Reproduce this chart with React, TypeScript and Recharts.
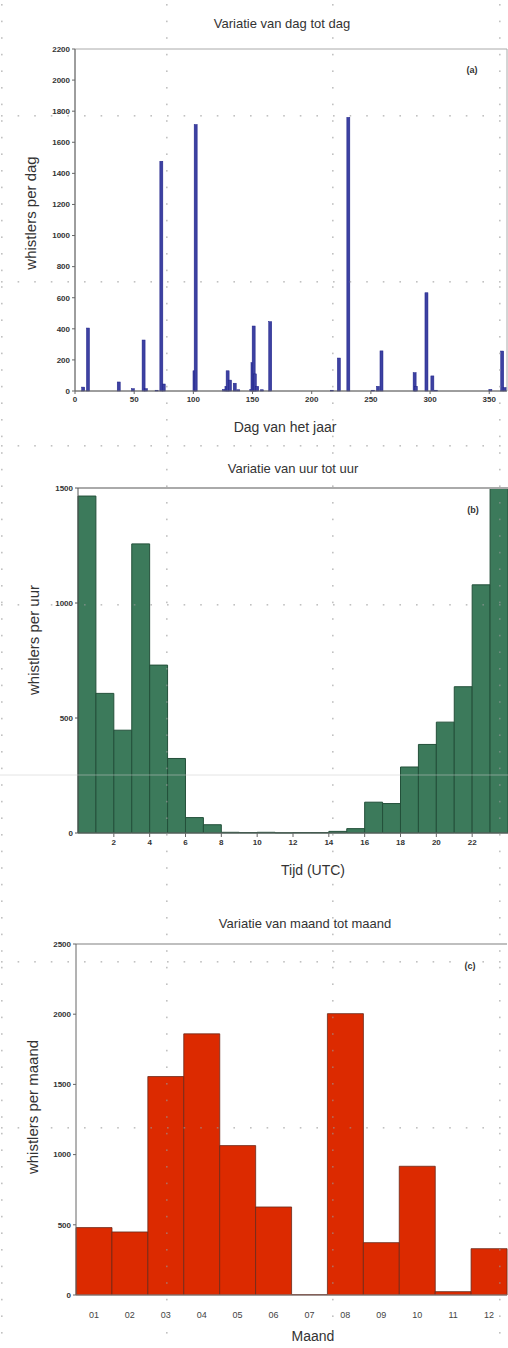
import { BarChart, Bar, XAxis, YAxis, ReferenceArea, ReferenceLine } from "recharts";

// (a) dag van het jaar
const dayNumbers = [7, 11, 37, 49, 58, 60, 69, 73, 75, 101, 102, 126, 128, 129, 131, 135, 138, 149, 150, 151, 152, 154, 158, 165, 217, 223, 231, 252, 256, 259, 287, 288, 297, 302, 305, 351, 361, 363];
const dayCounts = [25, 405, 58, 15, 328, 15, 5, 1478, 45, 130, 1714, 10, 30, 130, 70, 50, 8, 10, 182, 418, 110, 30, 8, 446, 5, 212, 1760, 5, 30, 258, 118, 30, 632, 97, 5, 10, 257, 22];
const dayTicksX = [0, 50, 100, 150, 200, 250, 300, 350];
const dayTicksY = [0, 200, 400, 600, 800, 1000, 1200, 1400, 1600, 1800, 2000, 2200];

// (b) uur (UTC)
const hourStarts = [0, 1, 2, 3, 4, 5, 6, 7, 8, 9, 10, 11, 12, 13, 14, 15, 16, 17, 18, 19, 20, 21, 22, 23];
const hourCounts = [1465, 607, 447, 1257, 730, 324, 67, 36, 3, 2, 3, 1, 2, 2, 7, 19, 134, 128, 287, 385, 482, 636, 1079, 1500];
const hourTicksX = [2, 4, 6, 8, 10, 12, 14, 16, 18, 20, 22];
const hourTicksY = [0, 500, 1000, 1500];

// (c) maand
const months = ["01", "02", "03", "04", "05", "06", "07", "08", "09", "10", "11", "12"];
const monthCounts = [480, 449, 1556, 1860, 1064, 627, 3, 2004, 373, 917, 24, 330];
const monthTicksY = [0, 500, 1000, 1500, 2000, 2500];

const dayData = dayNumbers.map((d, i) => ({ day: d, count: dayCounts[i] }));
const hourData = hourStarts.map((h, i) => ({ hour: h + 0.5, count: hourCounts[i] }));
const monthData = months.map((m, i) => ({ month: m, count: monthCounts[i] }));

const FONT = "'Liberation Sans', Arial, sans-serif";
const tickY = { fontSize: 8, fontWeight: 700, fill: "#333", fontFamily: FONT };
const tickX = { fontSize: 8, fontWeight: 700, fill: "#333", fontFamily: FONT };

const txt = (s: string, x: number, y: number, size: number, extra: any = {}) => (
  <div
    style={{
      position: "absolute",
      left: x,
      top: y,
      transform: "translate(-50%, -50%)",
      fontFamily: FONT,
      fontSize: size,
      color: "#333",
      whiteSpace: "nowrap",
      ...extra,
    }}
  >
    {s}
  </div>
);

const vtxt = (s: string, x: number, y: number) =>
  txt(s, x, y, 15, { transform: "translate(-50%, -50%) rotate(-90deg)" });

// thin day bars: keep the library's x centre, draw a fixed 3px wide stick
const DayBar = (props: any) => {
  const { x, y, width, height } = props;
  if (!height || height <= 0) return null;
  const cx = x + width / 2;
  return <rect x={cx - 1.5} y={y} width={3} height={height} fill="#3d41a2" stroke="#1d2088" strokeWidth={0.5} />;
};

// dotted page grid that lies over the whole scan
const PageGrid = () => {
  const cols = [1, 166, 332, 499];
  const rows = [115, 281, 445, 604, 961, 1127];
  const dots: any[] = [];
  cols.forEach((x) => {
    for (let y = 4; y < 1348; y += 16.6) dots.push(<rect key={`c${x}-${y}`} x={x} y={y} width={1.6} height={1.6} />);
  });
  rows.forEach((y) => {
    for (let x = 1; x < 508; x += 16.6) dots.push(<rect key={`r${y}-${x}`} x={x} y={y} width={1.6} height={1.6} />);
  });
  return (
    <svg width={508} height={1348} style={{ position: "absolute", left: 0, top: 0, pointerEvents: "none" }}>
      <g fill="#999" opacity={0.6}>{dots}</g>
      <line x1={0} x2={508} y1={775} y2={775} stroke="#ccc" strokeWidth={1} opacity={0.5} />
    </svg>
  );
};

export default function App() {
  return (
    <div style={{ position: "absolute", left: 0, top: 0, width: 508, height: 1348, background: "#fff", overflow: "hidden" }}>
      {/* (a) */}
      <div style={{ position: "absolute", left: 0, top: 0 }}>
        <BarChart width={508} height={440} data={dayData} margin={{ top: 49, right: 1, bottom: 29, left: 0 }}>
          <ReferenceArea x1={0} x2={365} y1={0} y2={2200} fill="none" stroke="#aaa" strokeWidth={1} />
          <XAxis
            dataKey="day"
            type="number"
            domain={[0, 365]}
            ticks={dayTicksX}
            allowDecimals={false}
            height={20}
            tick={tickX}
            tickSize={3}
            axisLine={{ stroke: "#666" }}
            tickLine={{ stroke: "#666" }}
          />
          <YAxis
            domain={[0, 2200]}
            ticks={dayTicksY}
            width={75}
            tick={tickY}
            tickSize={3}
            axisLine={{ stroke: "#666" }}
            tickLine={{ stroke: "#666" }}
            interval={0}
          />
          <Bar dataKey="count" fill="#3d41a2" barSize={2} shape={DayBar} isAnimationActive={false} />
        </BarChart>
      </div>
      {txt("Variatie van dag tot dag", 282, 23, 13)}
      {vtxt("whistlers per dag", 30, 213)}
      {txt("Dag van het jaar", 285, 427, 14)}
      {txt("(a)", 472, 70, 9, { fontWeight: 700 })}

      {/* (b) */}
      <div style={{ position: "absolute", left: 0, top: 440 }}>
        <BarChart width={508} height={440} data={hourData} margin={{ top: 48, right: 0, bottom: 27, left: 0 }}>
          <ReferenceLine y={1500} stroke="#aaa" strokeWidth={2} />
          <XAxis
            dataKey="hour"
            type="number"
            domain={[0, 24]}
            ticks={hourTicksX}
            height={20}
            tick={tickX}
            tickSize={4}
            axisLine={{ stroke: "#666" }}
            tickLine={{ stroke: "#666" }}
          />
          <YAxis
            domain={[0, 1500]}
            ticks={hourTicksY}
            width={78}
            tick={tickY}
            tickSize={3}
            axisLine={{ stroke: "#555" }}
            tickLine={{ stroke: "#555" }}
            interval={0}
          />
          <Bar dataKey="count" fill="#3c7a5b" stroke="#23503a" strokeWidth={1} barSize={17.9} isAnimationActive={false} />
        </BarChart>
      </div>
      {txt("Variatie van uur tot uur", 293, 468, 13)}
      {vtxt("whistlers per uur", 33, 640)}
      {txt("Tijd (UTC)", 313, 870, 14)}
      {txt("(b)", 473, 510, 9, { fontWeight: 700 })}

      {/* (c) */}
      <div style={{ position: "absolute", left: 0, top: 900 }}>
        <BarChart width={508} height={448} data={monthData} barCategoryGap={0} margin={{ top: 44, right: 1, bottom: 23, left: 0 }}>
          <ReferenceLine y={2500} stroke="#aaa" strokeWidth={1.5} />
          <XAxis
            dataKey="month"
            height={30}
            tick={{ fontSize: 9, fill: "#444", fontFamily: FONT }}
            tickSize={0}
            tickMargin={17}
            axisLine={{ stroke: "#888" }}
            interval={0}
          />
          <YAxis
            domain={[0, 2500]}
            ticks={monthTicksY}
            width={76}
            tick={tickY}
            tickSize={3}
            axisLine={{ stroke: "#666" }}
            tickLine={{ stroke: "#666" }}
            interval={0}
          />
          <Bar dataKey="count" fill="#dc2a00" stroke="#6a2a1a" strokeWidth={0.8} isAnimationActive={false} />
        </BarChart>
      </div>
      {txt("Variatie van maand tot maand", 305, 923, 13)}
      {vtxt("whistlers per maand", 32, 1107)}
      {txt("Maand", 313, 1336, 14)}
      {txt("(c)", 470, 966, 9, { fontWeight: 700 })}

      <PageGrid />
    </div>
  );
}
